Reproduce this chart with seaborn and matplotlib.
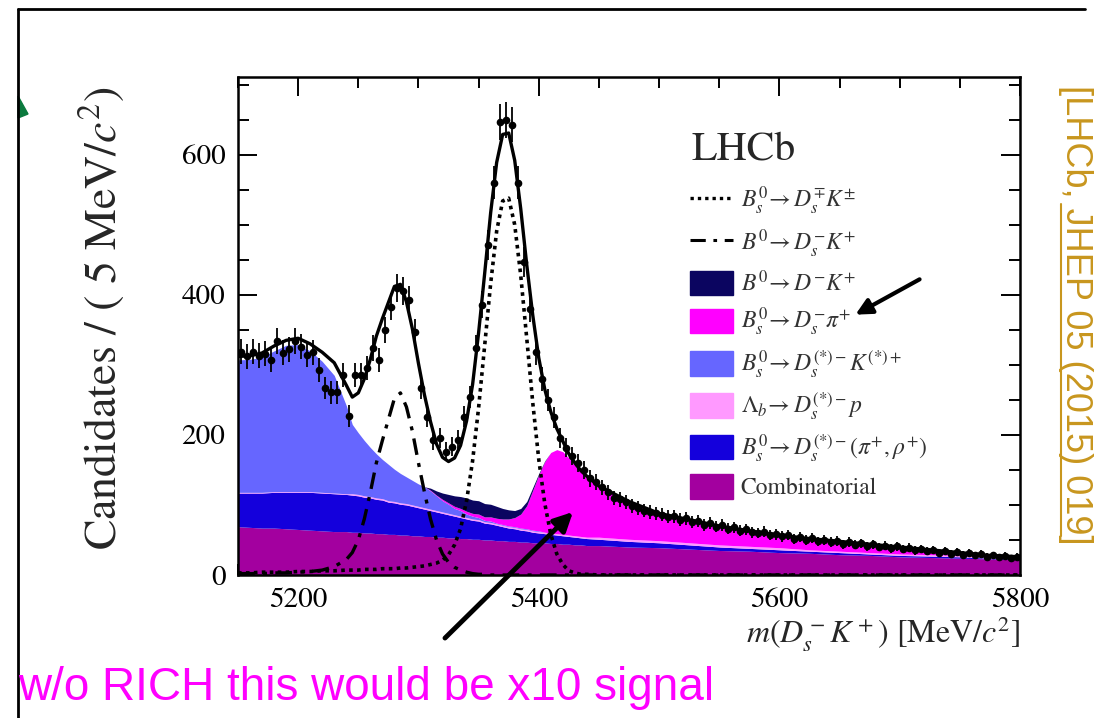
import numpy as np
import matplotlib
matplotlib.use("Agg")
import matplotlib.pyplot as plt
from matplotlib.lines import Line2D
from matplotlib.patches import Patch, Polygon
from matplotlib.ticker import MultipleLocator
import seaborn as sns

# mass grid for the fit components (MeV/c^2)
MASS = np.r_[np.arange(5150, 5245, 10), np.arange(5245, 5445, 5), np.arange(5450, 5801, 25)]

# fit components (candidates per 5 MeV)
COMBINATORIAL = [69, 68, 67, 67, 66, 65, 64, 63, 62, 62,
                 61, 61, 60, 60, 59, 59, 58, 58, 57, 57, 56, 56, 55, 55, 54, 54, 53, 53, 52, 52,
                 51, 51, 50, 50, 49, 49, 48, 48, 47, 47, 46, 46, 46, 45, 45, 44, 44, 43, 43, 42,
                 42, 40, 39, 37, 35, 34, 32, 31, 29, 28, 26, 25, 24, 23, 22]
BS_DSST_PIRHO = [48, 49, 50, 51, 52, 53, 54, 54, 54, 53,
                 53, 52, 51, 50, 49, 48, 46, 45, 44, 43, 42, 40, 39, 37, 36, 34, 33, 31, 30, 28,
                 27, 26, 24, 23, 22, 20, 19, 18, 17, 16, 15, 14, 13, 13, 12, 12, 11, 11, 10, 10,
                 9, 8, 7, 6, 5, 4, 4, 3, 3, 2, 2, 2, 2, 1, 1]
LB_DSP = [1, 1, 1, 1, 1, 1, 1, 1, 1, 1,
          2, 2, 2, 2, 2, 2, 2, 2, 2, 2, 2, 2, 2, 2, 2, 2, 2, 2, 2, 2,
          2, 2, 2, 2, 2, 2, 2, 2, 2, 2, 2, 2, 2, 2, 2, 2, 2, 2, 2, 2,
          3, 3, 3, 3, 3, 3, 3, 2, 2, 2, 2, 2, 2, 2, 2]
BS_DSST_KST = [189, 190, 193, 201, 209, 210, 201, 187, 168, 126,
               99, 88, 79, 70, 63, 56, 52, 46, 42, 38, 35, 32, 30, 26, 21, 16, 13, 9, 8, 5,
               4, 3, 2, 2, 1, 1, 1, 1, 1, 1, 1, 1, 0, 0, 0, 0, 0, 0, 0, 0,
               0, 0, 0, 0, 0, 0, 0, 0, 0, 0, 0, 0, 0, 0, 0]
BS_DSPI = [0, 0, 0, 0, 0, 0, 0, 0, 0, 0,
           0, 0, 0, 0, 0, 0, 0, 0, 0, 0, 0, 0, 0, 1, 1, 2, 2, 3, 3, 4,
           4, 5, 5, 6, 7, 8, 10, 13, 20, 33, 57, 80, 101, 115, 120, 118, 110, 101, 93, 86,
           73, 54, 39, 33, 27, 22, 18, 16, 14, 12, 10, 7, 4, 2, 1]
B0_DK = [0, 0, 0, 0, 0, 0, 0, 0, 0, 0,
         0, 0, 0, 0, 0, 0, 0, 0, 0, 0, 0, 0, 0, 3, 6, 9, 12, 15, 17, 19,
         19, 19, 19, 18, 17, 15, 13, 10, 8, 6, 4, 2, 1, 0, 0, 0, 0, 0, 0, 0,
         0, 0, 0, 0, 0, 0, 0, 0, 0, 0, 0, 0, 0, 0, 0]
B0_DSK = [2, 2, 2, 3, 3, 4, 5, 7, 12, 22,
          32, 50, 80, 118, 160, 192, 222, 252, 260, 240, 205, 160, 118, 80, 50, 30, 18, 11, 7, 4,
          2, 1, 1, 0, 0, 0, 0, 0, 0, 0, 0, 0, 0, 0, 0, 0, 0, 0, 0, 0,
          0, 0, 0, 0, 0, 0, 0, 0, 0, 0, 0, 0, 0, 0, 0]
BS_DSK = [3, 3, 4, 4, 4, 5, 5, 6, 6, 7,
          7, 7, 8, 8, 8, 9, 9, 9, 10, 10, 11, 12, 13, 15, 17, 21, 29, 43, 66, 106,
          163, 239, 327, 416, 491, 534, 538, 500, 428, 338, 246, 165, 102, 58, 30, 15, 6, 3, 1, 1,
          0, 0, 0, 0, 0, 0, 0, 0, 0, 0, 0, 0, 0, 0, 0]

# data histogram, 5 MeV bins starting at 5150
DATA = [319, 312, 319, 313, 316, 307, 334, 317, 322, 334,
        326, 314, 318, 293, 267, 261, 261, 286, 227, 286,
        286, 296, 324, 307, 350, 383, 410, 405, 393, 347,
        267, 226, 193, 196, 176, 183, 193, 226, 254, 324,
        386, 471, 560, 647, 650, 643, 560, 447, 380, 318,
        280, 250, 225, 196, 182, 170, 160, 150, 138, 133,
        125, 118, 110, 108, 104, 98, 96, 92, 90, 88,
        86, 83, 84, 79, 81, 76, 77, 72, 74, 69,
        71, 66, 68, 63, 65, 61, 60, 62, 57, 58,
        55, 57, 52, 54, 50, 53, 48, 50, 47, 49,
        44, 47, 43, 45, 41, 44, 40, 42, 38, 41,
        37, 39, 35, 37, 34, 36, 32, 34, 30, 33,
        29, 31, 28, 30, 26, 28, 25, 27, 24, 26]
BIN_CENTRES = np.arange(5152.5, 5800, 5.0)

LABELS = [r"$B_s^0\!\rightarrow D_s^{\mp}K^{\pm}$",
          r"$B^0\!\rightarrow D_s^{-}K^{+}$",
          r"$B^0\!\rightarrow D^{-}K^{+}$",
          r"$B_s^0\!\rightarrow D_s^{-}\pi^{+}$",
          r"$B_s^0\!\rightarrow D_s^{(*)-}K^{(*)+}$",
          r"$\Lambda_b\!\rightarrow D_s^{(*)-}p$",
          r"$B_s^0\!\rightarrow D_s^{(*)-}(\pi^{+},\rho^{+})$",
          "Combinatorial"]

sns.set_theme(style="ticks")
plt.rcParams["font.family"] = ["STIXGeneral", "DejaVu Sans"]
plt.rcParams["mathtext.fontset"] = "stix"

W, H = 1099, 718
fig = plt.figure(figsize=(W / 100, H / 100), dpi=100)
ax = fig.add_axes([238 / W, 1 - 575 / H, (1020 - 238) / W, (575 - 77) / H])

DOTS = (0, (1.0, 1.2))
DASHDOT = (0, (5, 2.5, 1.2, 2.5))

# stacked backgrounds, bottom to top
stack = [(COMBINATORIAL, "#a3009f"), (BS_DSST_PIRHO, "#1400dc"), (LB_DSP, "#ff99ff"),
         (BS_DSST_KST, "#6666ff"), (BS_DSPI, "#ff00ff"), (B0_DK, "#0b0560")]
base = np.zeros(len(MASS))
for vals, col in stack:
    top = base + np.asarray(vals, dtype=float)
    ax.fill_between(MASS, base, top, color=col, lw=0, zorder=1)
    base = top
total = base + np.asarray(BS_DSK) + np.asarray(B0_DSK)

sns.lineplot(x=MASS, y=BS_DSK, ax=ax, color="black", lw=2.6, linestyle=DOTS, zorder=3)
sns.lineplot(x=MASS, y=B0_DSK, ax=ax, color="black", lw=2.4, linestyle=DASHDOT, zorder=3)
ax.errorbar(BIN_CENTRES, DATA, yerr=np.sqrt(DATA), fmt="o", ms=4.5, color="black",
            elinewidth=1.3, capsize=0, zorder=4)
sns.lineplot(x=MASS, y=total, ax=ax, color="black", lw=2.4, zorder=5)

ax.set_xlim(5150, 5800)
ax.set_ylim(0, 711)
ax.set_xticks([5200, 5400, 5600, 5800])
ax.set_yticks([0, 200, 400, 600])
ax.xaxis.set_minor_locator(MultipleLocator(50))
ax.yaxis.set_minor_locator(MultipleLocator(50))
ax.tick_params(which="both", direction="in", top=True, right=True, width=1.4, colors="black",
               labelsize=21, pad=9)
ax.tick_params(which="major", length=14)
ax.tick_params(which="minor", length=8)
for sp in ax.spines.values():
    sp.set_linewidth(1.8)
    sp.set_color("black")
    sp.set_zorder(6)
ax.set_xlabel("")
ax.set_ylabel("")

fig.text(101 / W, 1 - 318 / H, r"Candidates / ( 5 MeV/$c^2$)", rotation=90,
         ha="center", va="center", fontsize=33)
fig.text(1020 / W, 1 - 643 / H, r"$m(D_s^- K^+)$ [MeV/$c^2$]", ha="right", va="baseline", fontsize=23)
fig.text(691 / W, 1 - 160 / H, "LHCb", ha="left", va="baseline", fontsize=30)

handles = [Line2D([], [], color="black", lw=2.4, linestyle=DOTS),
           Line2D([], [], color="black", lw=2.2, linestyle=DASHDOT),
           Patch(color="#0b0560"), Patch(color="#ff00ff"), Patch(color="#6666ff"),
           Patch(color="#ff99ff"), Patch(color="#1400dc"), Patch(color="#a3009f")]
leg = ax.legend(handles, LABELS, loc="upper left", bbox_to_anchor=(690 / W, 1 - 185 / H),
                bbox_transform=fig.transFigure, frameon=False, fontsize=17,
                handlelength=1.8, handleheight=1.2, labelspacing=0.44, handletextpad=0.35,
                borderpad=0, borderaxespad=0)
for t in leg.get_texts():
    t.set_color("#333333")

# slide decorations
fig.add_artist(Line2D([18 / W, 18 / W], [0, 1 - 9 / H], transform=fig.transFigure, color="black", lw=2))
fig.add_artist(Line2D([18 / W, 1085 / W], [1 - 9 / H, 1 - 9 / H], transform=fig.transFigure,
                      color="black", lw=2))
fig.add_artist(Polygon([(18 / W, 1 - 96 / H), (28 / W, 1 - 114 / H), (18 / W, 1 - 118 / H)],
                       closed=True, transform=fig.transFigure, color="#0b7a3e"))

ax.annotate("", xy=(575 / W, 1 - 510 / H), xytext=(443 / W, 1 - 640 / H),
            xycoords="figure fraction", textcoords="figure fraction", annotation_clip=False,
            arrowprops=dict(arrowstyle="-|>", lw=3.5, color="black", mutation_scale=28))
ax.annotate("", xy=(853 / W, 1 - 316 / H), xytext=(922 / W, 1 - 278 / H),
            xycoords="figure fraction", textcoords="figure fraction", annotation_clip=False,
            arrowprops=dict(arrowstyle="-|>", lw=3, color="black", mutation_scale=24))

fig.text(1075 / W, 1 - 315 / H, "[LHCb, JHEP 05 (2015) 019]", rotation=270, ha="center", va="center",
         color="#c8961e", fontsize=26, family=["Liberation Sans", "DejaVu Sans"])
fig.add_artist(Line2D([1061 / W, 1061 / W], [1 - 204 / H, 1 - 536 / H], transform=fig.transFigure,
                      color="#c8961e", lw=1.5))
fig.text(18 / W, 1 - 700 / H, "w/o RICH this would be x10 signal", ha="left", va="baseline",
         color="#ff00ff", fontsize=33, family=["Liberation Sans", "DejaVu Sans"])

fig.savefig("out.png", dpi=100)
